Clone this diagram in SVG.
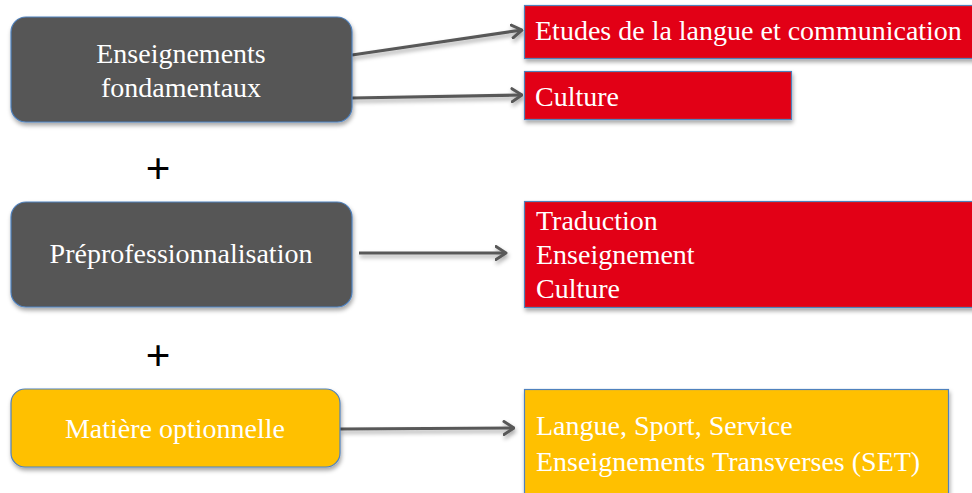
<svg xmlns="http://www.w3.org/2000/svg" width="972" height="493" viewBox="0 0 972 493">
<style>
.t{font-family:"Liberation Serif","Times New Roman",serif;font-size:28px;fill:#ffffff}
.c{text-anchor:middle}
.dark{fill:#565656;stroke:#4f81bd;stroke-width:1.2}
.red{fill:#e20613;stroke:#4f81bd;stroke-width:1.2}
.yel{fill:#ffc000;stroke:#4f81bd;stroke-width:1.2}
.conn{fill:none;stroke:#595959;stroke-width:3.2}
.plus{font-family:"Liberation Serif","Times New Roman",serif;font-size:44px;font-weight:bold;fill:#000;text-anchor:middle}
</style>
<defs>
<filter id="sh" x="-10%" y="-10%" width="130%" height="140%">
<feDropShadow dx="1" dy="3" stdDeviation="2" flood-color="#000" flood-opacity="0.35"/>
</filter>
<marker id="arr" viewBox="0 0 13 16" refX="11.5" refY="8" markerWidth="13" markerHeight="16" markerUnits="userSpaceOnUse" orient="auto">
<path d="M1.5,1.5 L11.5,8 L1.5,14.5" fill="none" stroke="#595959" stroke-width="3" stroke-linecap="round" stroke-linejoin="round"/>
</marker>
</defs>
<rect width="972" height="493" fill="#ffffff"/>

<g id="connectors" filter="url(#sh)">
<path class="conn" d="M352,55 L522,30" marker-end="url(#arr)"/>
<path class="conn" d="M352,98 L522,95" marker-end="url(#arr)"/>
<path class="conn" d="M359,253 L506,253" marker-end="url(#arr)"/>
<path class="conn" d="M340,429 L514,428" marker-end="url(#arr)"/>
</g>

<g id="node-fondamentaux">
<rect class="dark" x="11" y="17" width="341" height="105" rx="15" filter="url(#sh)"/>
<text class="t c" x="181" y="63">Enseignements</text>
<text class="t c" x="181" y="97">fondamentaux</text>
</g>

<g id="node-preprof">
<rect class="dark" x="11" y="202" width="341" height="105" rx="15" filter="url(#sh)"/>
<text class="t c" x="181" y="263">Préprofessionnalisation</text>
</g>

<g id="node-optionnelle">
<rect class="yel" x="11" y="389" width="329" height="78" rx="14" filter="url(#sh)"/>
<text class="t c" x="175" y="438">Matière optionnelle</text>
</g>

<g id="plus1"><text class="plus" x="158" y="183">+</text></g>
<g id="plus2"><text class="plus" x="158" y="370">+</text></g>

<g id="node-etudes">
<rect class="red" x="524.5" y="5.5" width="460" height="53" filter="url(#sh)"/>
<text class="t" x="535" y="40">Etudes de la langue et communication</text>
</g>

<g id="node-culture">
<rect class="red" x="524.5" y="71.5" width="267" height="48" filter="url(#sh)"/>
<text class="t" x="535" y="106">Culture</text>
</g>

<g id="node-traduction">
<rect class="red" x="524.5" y="201.5" width="460" height="106" filter="url(#sh)"/>
<text class="t" x="536" y="230">Traduction</text>
<text class="t" x="536" y="264">Enseignement</text>
<text class="t" x="536" y="298">Culture</text>
</g>

<g id="node-langue">
<rect class="yel" x="524.5" y="389.5" width="424" height="120" filter="url(#sh)"/>
<text class="t" x="536" y="435">Langue, Sport, Service</text>
<text class="t" x="536" y="471">Enseignements Transverses (SET)</text>
</g>
</svg>
